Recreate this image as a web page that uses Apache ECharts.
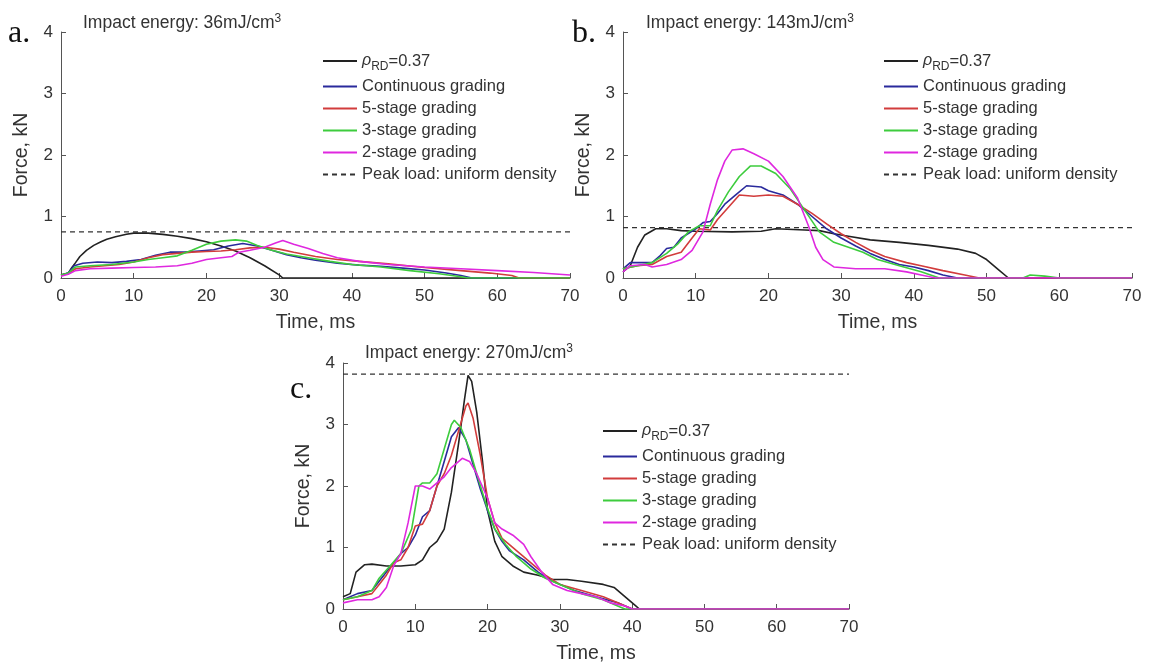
<!DOCTYPE html>
<html>
<head>
<meta charset="utf-8">
<title>Force-time curves at three impact energies</title>
<script src="https://cdn.jsdelivr.net/npm/echarts@6/dist/echarts.min.js"></script>
<style>
  html, body { margin: 0; padding: 0; background: #fff; }
  #chart { width: 1149px; height: 666px; }
</style>
</head>
<body>
<div id="chart"></div>
<script>
// ---- data (time ms, force kN) ----
var timeTicks = [0, 10, 20, 30, 40, 50, 60, 70];
var forceTicks = [0, 1, 2, 3, 4];
var seriesNames = ["ρRD=0.37", "Continuous grading", "5-stage grading", "3-stage grading", "2-stage grading"];
var peakName = "Peak load: uniform density";
var energies = ["36", "143", "270"];
var peakLoads = [0.75, 0.82, 3.82];

// a. 36 mJ/cm3
var aUniform = [[0,0.05],[1,0.08],[1.5,0.17],[2,0.25],[2.6,0.35],[3.5,0.45],[4.5,0.53],[5.5,0.59],[6.3,0.63],[7.5,0.67],[9,0.71],[10,0.73],[12,0.73],[14,0.71],[16,0.68],[18,0.64],[20,0.59],[22,0.52],[24,0.44],[26,0.33],[28,0.2],[30,0.05],[30.5,0],[70,0]];
var aContinuous = [[0,0.05],[1,0.08],[1.8,0.2],[3,0.24],[5,0.26],[7,0.25],[9,0.27],[11,0.3],[13,0.37],[15,0.42],[17,0.42],[19,0.44],[21,0.46],[23,0.52],[25,0.56],[27,0.52],[29,0.45],[31,0.38],[33,0.33],[35,0.29],[38,0.24],[41,0.21],[44,0.19],[47,0.16],[50,0.13],[53,0.08],[55,0.04],[56.5,0],[70,0]];
var aStage5 = [[0,0.05],[1,0.07],[2,0.15],[4,0.18],[6,0.2],[8,0.22],[10,0.26],[12,0.33],[14,0.38],[16,0.4],[18,0.42],[20,0.43],[22,0.44],[24,0.46],[26,0.49],[28,0.5],[30,0.47],[32,0.42],[35,0.35],[38,0.3],[41,0.27],[45,0.23],[50,0.17],[55,0.12],[59,0.08],[62,0.04],[63,0],[70,0]];
var aStage3 = [[0,0.05],[1,0.08],[2,0.18],[4,0.2],[7,0.22],[10,0.26],[12,0.3],[14,0.33],[16,0.36],[18,0.45],[20,0.55],[22,0.6],[24,0.62],[25.5,0.6],[27,0.53],[29,0.45],[31,0.39],[34,0.33],[37,0.27],[40,0.22],[44,0.18],[48,0.12],[52,0.07],[55,0.02],[56,0],[70,0]];
var aStage2 = [[0,0.03],[1,0.06],[2,0.12],[4,0.15],[7,0.16],[10,0.17],[13,0.18],[16,0.2],[18,0.24],[20,0.3],[22,0.33],[23.5,0.35],[24.5,0.42],[26,0.45],[28,0.5],[29.5,0.57],[30.5,0.61],[32,0.55],[34,0.48],[36,0.4],[38,0.33],[41,0.27],[45,0.22],[50,0.18],[55,0.15],[60,0.12],[65,0.09],[70,0.05]];

// b. 143 mJ/cm3
var bUniform = [[0,0.1],[1,0.2],[2,0.5],[3,0.7],[4.5,0.8],[6,0.8],[8,0.77],[10,0.76],[15,0.75],[19,0.76],[21,0.8],[25,0.78],[27,0.77],[29,0.72],[31,0.68],[34,0.62],[38,0.58],[42,0.53],[46,0.47],[48.5,0.4],[50,0.3],[51.5,0.15],[53,0],[70,0]];
var bContinuous = [[0,0.15],[1,0.25],[4,0.25],[5,0.35],[6,0.48],[7,0.5],[8,0.65],[10,0.8],[11,0.9],[12,0.92],[13,1.05],[14,1.2],[15.5,1.35],[17,1.5],[19,1.48],[20,1.42],[22,1.35],[24,1.2],[26,1],[28,0.8],[30,0.65],[32,0.52],[34,0.4],[36,0.3],[38,0.22],[40,0.18],[42,0.12],[44,0.05],[46,0],[70,0]];
var bStage5 = [[0,0.15],[2,0.2],[4,0.22],[6,0.35],[8,0.42],[9.5,0.65],[10.5,0.8],[12,0.78],[13,0.95],[14.5,1.15],[16,1.35],[18,1.33],[20,1.35],[22,1.33],[24,1.2],[26,1.05],[28,0.88],[30,0.72],[32,0.58],[34,0.45],[36,0.35],[39,0.25],[41,0.2],[44,0.12],[47,0.05],[49,0],[70,0]];
var bStage3 = [[0,0.15],[2,0.2],[4,0.25],[6,0.4],[7.5,0.55],[9,0.75],[10.5,0.85],[12,0.85],[13,1.1],[14.5,1.4],[16,1.65],[17.5,1.82],[19,1.82],[21,1.7],[23,1.45],[25,1.1],[27,0.75],[29,0.58],[31,0.5],[33,0.42],[35,0.3],[38,0.2],[41,0.1],[43.5,0],[55,0],[56,0.05],[58,0.03],[60,0],[70,0]];
var bStage2 = [[0,0.1],[1,0.2],[3,0.22],[4,0.18],[6,0.22],[8,0.3],[9.5,0.45],[11,0.75],[12,1.2],[13,1.6],[14,1.9],[15,2.08],[16.5,2.1],[18,2.02],[20,1.9],[22,1.65],[24,1.3],[25.5,0.85],[26.5,0.5],[27.5,0.3],[29,0.18],[32,0.15],[36,0.15],[39,0.1],[41,0.05],[43,0],[70,0]];

// c. 270 mJ/cm3
var cUniform = [[0,0.2],[1,0.25],[1.8,0.6],[3,0.72],[4,0.73],[6,0.7],[8,0.7],[10,0.72],[11,0.8],[12,1],[13,1.1],[14,1.3],[15,1.9],[16,2.7],[16.8,3.4],[17.3,3.8],[17.8,3.7],[18.5,3.2],[19.3,2.4],[20,1.6],[21,1.1],[22,0.85],[23.5,0.7],[25,0.6],[27,0.55],[29,0.48],[31,0.48],[33,0.45],[36,0.4],[37.5,0.35],[39,0.2],[40.5,0.05],[41,0],[70,0]];
var cContinuous = [[0,0.15],[2,0.25],[4,0.3],[5,0.45],[6,0.6],[7,0.75],[8,0.9],[9,1],[10,1.2],[11,1.5],[12,1.6],[13,2],[14,2.4],[15,2.8],[16,2.95],[17,2.75],[18,2.35],[19,1.95],[20,1.6],[21,1.3],[22,1.1],[23,0.95],[25,0.8],[27,0.6],[29,0.45],[32,0.3],[35,0.2],[38,0.1],[40,0],[70,0]];
var cStage5 = [[0,0.15],[2,0.2],[4,0.25],[5,0.4],[6,0.55],[7,0.75],[8,0.8],[9,1],[10,1.35],[11,1.38],[12,1.6],[13,2],[14,2.2],[15,2.5],[16,2.9],[17,3.3],[17.3,3.35],[18,3.1],[19,2.5],[20,1.8],[21,1.4],[22,1.15],[24,0.95],[26,0.75],[28,0.55],[30,0.4],[33,0.3],[36,0.2],[38,0.1],[40,0],[70,0]];
var cStage3 = [[0,0.15],[2,0.2],[4,0.3],[5,0.5],[6.5,0.7],[8,0.9],[9.5,1.3],[10.5,2],[11,2.05],[12,2.05],[13,2.2],[14,2.6],[15,3],[15.4,3.07],[16.3,2.95],[17.5,2.6],[18.5,2.2],[19.8,1.7],[21,1.3],[22.5,1.05],[24,0.85],[26,0.65],[28,0.5],[30,0.4],[33,0.25],[36,0.15],[38,0.05],[39,0],[70,0]];
var cStage2 = [[0,0.1],[2,0.15],[4,0.15],[5,0.2],[6,0.35],[7,0.7],[8,0.9],[9,1.4],[10,2],[11,2],[12,1.95],[13,2.05],[14,2.15],[15,2.3],[16.5,2.45],[17.5,2.4],[18.5,2.2],[20,1.8],[21,1.4],[22,1.3],[23.5,1.2],[25,1.05],[26,0.85],[27.5,0.6],[29,0.4],[31,0.3],[33,0.25],[35,0.2],[37,0.1],[39,0.05],[40,0],[70,0]];

var panelCurves = [
  [aUniform, aContinuous, aStage5, aStage3, aStage2],
  [bUniform, bContinuous, bStage5, bStage3, bStage2],
  [cUniform, cContinuous, cStage5, cStage3, cStage2]
];

var colors = ["#222222", "#2a2a9c", "#d23c3c", "#3dcc3d", "#df28df"];
var txt = "#333";
var sans = "Liberation Sans, Arial, sans-serif";

// panel boxes in px
var grids = [
  { left: 61, top: 32, width: 509, height: 246 },
  { left: 623, top: 32, width: 509, height: 246 },
  { left: 343, top: 363, width: 506, height: 246 }
];
var legendPos = [[322, 49], [883, 49], [602, 419]];
var titlePos = [[83, 13], [646, 13], [365, 343]];
var letterPos = [["a.", 8, 18], ["b.", 572, 18], ["c.", 290, 374]];

var chart = echarts.init(document.getElementById("chart"));

var xAxis = [], yAxis = [], series = [], legend = [], title = [];

grids.forEach(function (g, i) {
  xAxis.push({
    type: "value", gridIndex: i, min: 0, max: 70, interval: 10,
    name: "Time, ms", nameLocation: "middle", nameGap: 35,
    nameTextStyle: { fontSize: 19.5, color: txt, fontFamily: sans },
    axisLine: { lineStyle: { color: "#555", width: 1 } },
    axisTick: { inside: true, length: 5, lineStyle: { color: "#555" } },
    axisLabel: { margin: 10, fontSize: 17, color: txt, fontFamily: sans },
    splitLine: { show: false }
  });
  yAxis.push({
    type: "value", gridIndex: i, min: 0, max: 4, interval: 1,
    name: "Force, kN", nameLocation: "middle", nameGap: 29,
    nameTextStyle: { fontSize: 19.5, color: txt, fontFamily: sans },
    axisLine: { show: true, lineStyle: { color: "#555", width: 1 } },
    axisTick: { show: true, inside: true, length: 5, lineStyle: { color: "#555" } },
    axisLabel: { margin: 8, fontSize: 17, color: txt, fontFamily: sans },
    splitLine: { show: false }
  });

  panelCurves[i].forEach(function (d, k) {
    series.push({
      name: seriesNames[k], type: "line", xAxisIndex: i, yAxisIndex: i,
      data: d, symbol: "none", showSymbol: false, smooth: false,
      lineStyle: { color: colors[k], width: 1.6 },
      itemStyle: { color: colors[k] },
      z: 3 + k
    });
  });
  series.push({
    name: peakName, type: "line", xAxisIndex: i, yAxisIndex: i,
    data: [[0, peakLoads[i]], [70, peakLoads[i]]],
    symbol: "none", showSymbol: false,
    lineStyle: { color: "#333", width: 1.3, type: [5, 4] },
    itemStyle: { color: "#333" },
    z: 2
  });

  legend.push({
    orient: "vertical", left: legendPos[i][0], top: legendPos[i][1],
    padding: 0, itemWidth: 34, itemHeight: 14, itemGap: 5, itemTextGap: 4,
    selectedMode: false,
    itemStyle: { opacity: 0 },
    data: seriesNames.concat([peakName]),
    formatter: function (n) {
      return n === seriesNames[0] ? "{i|ρ}{s|RD}{n|=0.37}" : n;
    },
    textStyle: {
      fontSize: 16.5, color: txt, fontFamily: sans, lineHeight: 16,
      rich: {
        i: { fontSize: 16, fontStyle: "italic", color: txt, fontFamily: sans, lineHeight: 24 },
        s: { fontSize: 12, color: txt, fontFamily: sans, lineHeight: 14, verticalAlign: "bottom" },
        n: { fontSize: 16.5, color: txt, fontFamily: sans, lineHeight: 24 }
      }
    }
  });

  title.push({
    text: "{m|Impact energy: " + energies[i] + "mJ/cm}{p|3}",
    left: titlePos[i][0], top: titlePos[i][1], padding: 0,
    textStyle: {
      fontWeight: "normal",
      rich: {
        m: { fontSize: 17.5, color: txt, fontFamily: sans, lineHeight: 20, fontWeight: "normal" },
        p: { fontSize: 12, color: txt, fontFamily: sans, lineHeight: 8, verticalAlign: "top", fontWeight: "normal" }
      }
    }
  });
});

letterPos.forEach(function (l) {
  title.push({
    text: l[0], left: l[1], top: l[2], padding: 0,
    textStyle: { fontFamily: "Liberation Serif, Times New Roman, serif", fontSize: 32, fontWeight: "normal", color: "#111" }
  });
});

chart.setOption({
  animation: false,
  backgroundColor: "#fff",
  grid: grids.map(function (g) {
    return { left: g.left, top: g.top, width: g.width, height: g.height, containLabel: false, outerBoundsMode: "none" };
  }),
  xAxis: xAxis,
  yAxis: yAxis,
  title: title,
  legend: legend,
  series: series
});
</script>
</body>
</html>
